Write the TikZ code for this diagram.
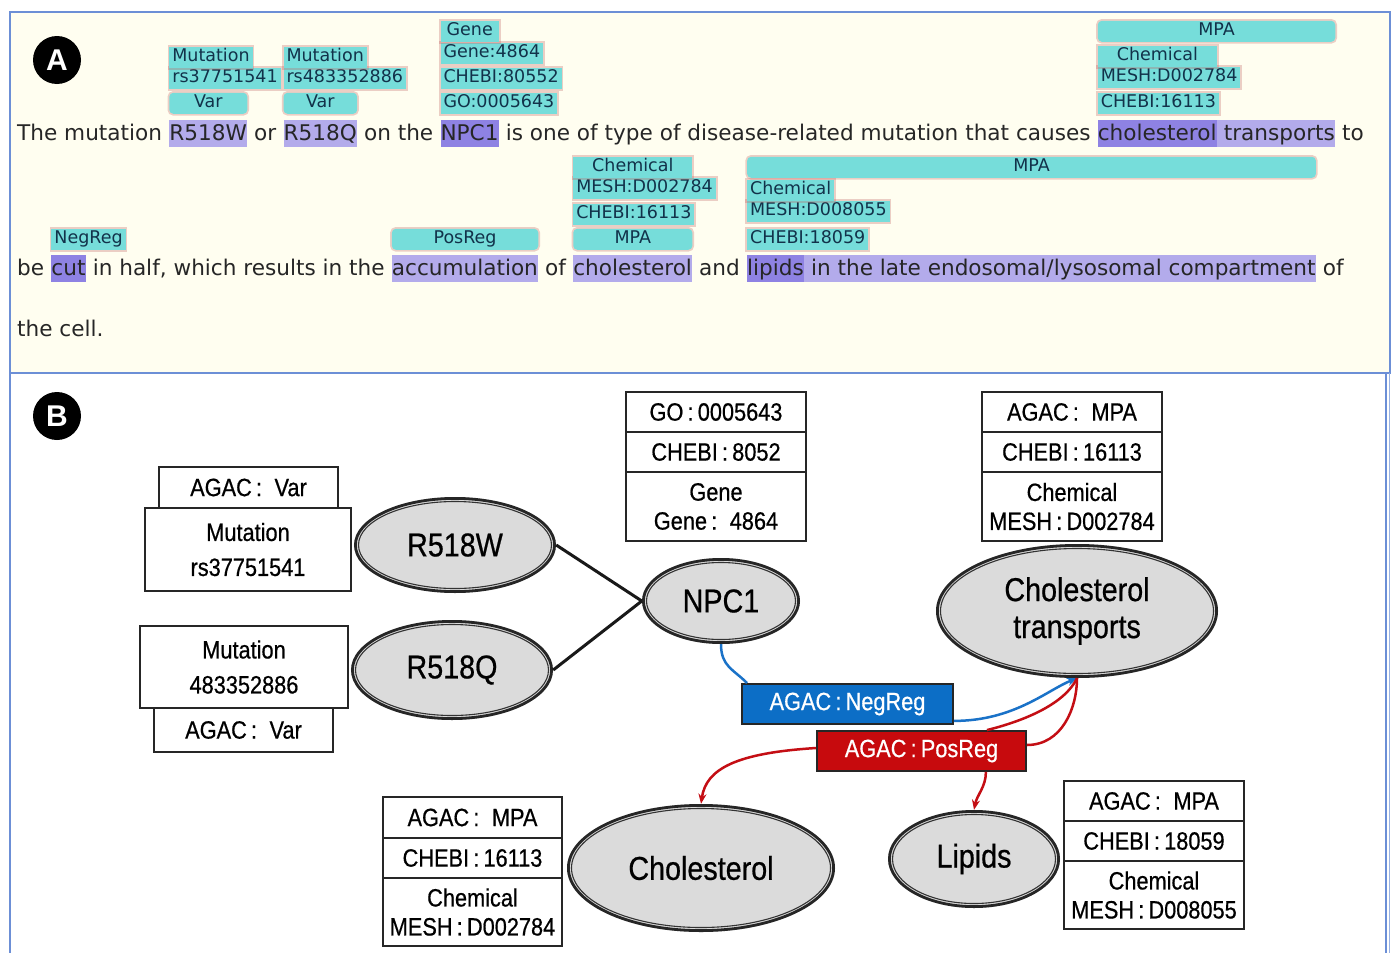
\documentclass[tikz,border=0pt]{standalone}
\usepackage{fontspec}
\usetikzlibrary{shapes.geometric,arrows.meta,calc}
\newfontfamily\afont{DejaVu Sans}
\newfontfamily\bfont[FakeStretch=0.87,FakeBold=0.6]{Liberation Sans}
\newfontfamily\cfont{Liberation Sans}
\definecolor{frameblue}{HTML}{6C8FD6}
\definecolor{panelbg}{HTML}{FFFEF0}
\definecolor{annc}{HTML}{76DDDA}
\definecolor{anntext}{HTML}{12324A}
\definecolor{glowc}{HTML}{C06060}
\definecolor{hllight}{HTML}{B3ABEB}
\definecolor{hldark}{HTML}{8E82E3}
\definecolor{maintext}{HTML}{262626}
\definecolor{ellfill}{HTML}{DBDBDB}
\definecolor{negblue}{HTML}{0C6EC6}
\definecolor{posred}{HTML}{C70A0D}
\definecolor{bluel}{HTML}{1A72C8}
\definecolor{redl}{HTML}{C40E14}
\newcommand\tsp{\ \mbox{}}
\newcommand\annot[6][]{%
  \coordinate (tmprow) at (0,#5);
  \path let \p1=(#3.west), \p2=(#4.east) in
    node[ann,#1,anchor=south west,minimum width=\x2-\x1] (#2) at (#3.west |- tmprow) {#6};}
\newcommand\ellnode[6]{%
  \fill[ellfill] (#2,#3) ellipse [x radius=#4, y radius=#5];
  \draw[line width=1.1pt, black!80] (#2,#3) ellipse [x radius=#4-4.5, y radius=#5-4.5];
  \draw[line width=2.8pt, black!85] (#2,#3) ellipse [x radius=#4-1.4, y radius=#5-1.4];
  \node[ellipse, inner sep=0pt, minimum width=2*#4, minimum height=2*#5, align=center,
        font=\bfont\fontsize{33}{37}\selectfont] (#1) at (#2,#3) {#6};}
\begin{document}
\begin{tikzpicture}[x=1pt,y=-1pt,
  txt/.style={inner sep=0pt, text=maintext, font=\afont\fontsize{21.6}{25}\selectfont},
  hlbox/.style={txt, fill=hllight, text height=20pt, text depth=7pt},
  hldbox/.style={txt, fill=hldark, text height=20pt, text depth=7pt},
  ann/.style={fill=annc, text=anntext, font=\afont\fontsize{17.5}{19}\selectfont,
    inner xsep=3pt, inner ysep=2.5pt, text height=12.5pt, text depth=3.5pt,
    preaction={draw=glowc, draw opacity=0.3, line width=3.5pt}},
  annr/.style={rounded corners=4pt},
  bbox/.style={draw=black!85, line width=1.8pt, fill=white, inner sep=0pt, align=center,
    font=\bfont\fontsize{25}{29}\selectfont},
  mbox/.style={bbox, font=\bfont\fontsize{25}{35}\selectfont},
  regbox/.style={draw=black!85, line width=1.8pt, inner sep=0pt, text=white,
    minimum width=210, minimum height=40, font=\bfont\fontsize{25}{29}\selectfont},
  conn/.style={line width=2.5pt},
  tip/.style={-{Stealth[length=10pt,width=8pt]}},
  badge/.style={circle, fill=black, minimum size=48, inner sep=0pt, text=white,
    font=\cfont\bfseries\fontsize{30}{30}\selectfont}
]
\useasboundingbox (0,0) rectangle (1394,953);
\fill[white] (0,0) rectangle (1394,953);
% ---------------- panel A ----------------
\draw[frameblue, line width=2pt, fill=panelbg] (10,12) rectangle (1390,373);
\node[badge] (badgeA) at (57,60) {A};
% line 1
\node[txt, anchor=base west] (l1a) at (17,140) {The mutation\tsp};
\node[hlbox, anchor=base west] (rw1) at (l1a.base east) {R518W};
\node[txt, anchor=base west] (l1b) at (rw1.base east) {\ or\tsp};
\node[hlbox, anchor=base west] (rq1) at (l1b.base east) {R518Q};
\node[txt, anchor=base west] (l1c) at (rq1.base east) {\ on the\tsp};
\node[hldbox, anchor=base west] (np1) at (l1c.base east) {NPC1};
\node[txt, anchor=base west] (l1d) at (np1.base east) {\ is one of type of disease-related mutation that causes\tsp};
\node[hldbox, anchor=base west] (ch1) at (l1d.base east) {cholesterol};
\node[hlbox, anchor=base west] (tr1) at (ch1.base east) {\ transports};
\node[txt, anchor=base west] (l1e) at (tr1.base east) {\ to};
% line 2
\node[txt, anchor=base west] (l2a) at (17,275) {be\tsp};
\node[hldbox, anchor=base west] (cut) at (l2a.base east) {cut};
\node[txt, anchor=base west] (l2b) at (cut.base east) {\ in half, which results in the\tsp};
\node[hlbox, anchor=base west] (acc) at (l2b.base east) {accumulation};
\node[txt, anchor=base west] (l2c) at (acc.base east) {\ of\tsp};
\node[hlbox, anchor=base west] (ch2) at (l2c.base east) {cholesterol};
\node[txt, anchor=base west] (l2d) at (ch2.base east) {\ and\tsp};
\node[hldbox, anchor=base west] (lip) at (l2d.base east) {lipids};
\node[hlbox, anchor=base west] (end2) at (lip.base east) {\ in the late endosomal/lysosomal compartment};
\node[txt, anchor=base west] (l2e) at (end2.base east) {\ of};
% line 3
\node[txt, anchor=base west] (l3) at (17,336) {the cell.};
% annotations line 1
\annot[annr]{a1}{rw1}{rw1}{114}{Var}
\annot{a2}{rw1}{rw1}{89}{rs37751541}
\annot{a3}{rw1}{rw1}{68}{Mutation}
\annot[annr]{a4}{rq1}{rq1}{114}{Var}
\annot{a5}{rq1}{rq1}{89}{rs483352886}
\annot{a6}{rq1}{rq1}{68}{Mutation}
\annot{a7}{np1}{np1}{114}{GO:0005643}
\annot{a8}{np1}{np1}{89}{CHEBI:80552}
\annot{a9}{np1}{np1}{64}{Gene:4864}
\annot{a10}{np1}{np1}{42}{Gene}
\annot{a11}{ch1}{ch1}{114}{CHEBI:16113}
\annot{a12}{ch1}{ch1}{88}{MESH:D002784}
\annot{a13}{ch1}{ch1}{67}{Chemical}
\annot[annr]{a14}{ch1}{tr1}{42}{MPA}
% annotations line 2
\annot{b1}{cut}{cut}{250}{NegReg}
\annot[annr]{b2}{acc}{acc}{250}{PosReg}
\annot[annr]{b3}{ch2}{ch2}{250}{MPA}
\annot{b4}{ch2}{ch2}{225}{CHEBI:16113}
\annot{b5}{ch2}{ch2}{199}{MESH:D002784}
\annot{b6}{ch2}{ch2}{178}{Chemical}
\annot{b7}{lip}{lip}{250}{CHEBI:18059}
\annot{b8}{lip}{lip}{222}{MESH:D008055}
\annot{b9}{lip}{lip}{201}{Chemical}
\annot[annr]{b10}{lip}{end2}{178}{MPA}
% ---------------- panel B ----------------
\draw[frameblue, line width=2pt] (10,373) -- (10,953);
\draw[frameblue, line width=1.5pt] (1386,373) -- (1386,953);
\draw[frameblue!70, line width=1pt] (1389.5,373) -- (1389.5,953);
\node[badge] (badgeB) at (57,416) {B};
% info boxes
\node[bbox, minimum width=179, minimum height=41] (v1) at (248.5,487.5) {AGAC\,:\enspace Var};
\node[mbox, minimum width=206, minimum height=83] (m1) at (248,549.5) {Mutation\\rs37751541};
\node[mbox, minimum width=208, minimum height=82] (m2) at (244,667) {Mutation\\483352886};
\node[bbox, minimum width=179, minimum height=44] (v2) at (243.5,730) {AGAC\,:\enspace Var};
\node[bbox, minimum width=180, minimum height=40] (go1) at (716,412) {GO\,:\,0005643};
\node[bbox, minimum width=180, minimum height=40] (go2) at (716,452) {CHEBI\,:\,8052};
\node[bbox, minimum width=180, minimum height=69] (go3) at (716,506.5) {Gene\\Gene\,:\enspace 4864};
\node[bbox, minimum width=180, minimum height=40] (c1) at (1072,412) {AGAC\,:\enspace MPA};
\node[bbox, minimum width=180, minimum height=40] (c2) at (1072,452) {CHEBI\,:\,16113};
\node[bbox, minimum width=180, minimum height=69] (c3) at (1072,506.5) {Chemical\\MESH\,:\,D002784};
\node[bbox, minimum width=179, minimum height=41] (h1) at (472.5,817.5) {AGAC\,:\enspace MPA};
\node[bbox, minimum width=179, minimum height=40] (h2) at (472.5,858) {CHEBI\,:\,16113};
\node[bbox, minimum width=179, minimum height=68] (h3) at (472.5,912) {Chemical\\MESH\,:\,D002784};
\node[bbox, minimum width=180, minimum height=40] (p1) at (1154,801) {AGAC\,:\enspace MPA};
\node[bbox, minimum width=180, minimum height=40] (p2) at (1154,841) {CHEBI\,:\,18059};
\node[bbox, minimum width=180, minimum height=68] (p3) at (1154,895) {Chemical\\MESH\,:\,D008055};
% ellipses
\ellnode{rw}{455}{545}{101}{48}{R518W}
\ellnode{rq}{452}{670}{101}{50}{R518Q}
\ellnode{npc}{721}{601}{79}{43}{NPC1}
\ellnode{ct}{1077}{611}{141}{67}{Cholesterol\\transports}
\ellnode{chol}{701}{868}{134}{64}{Cholesterol}
\ellnode{lipids}{974}{859}{86}{49}{Lipids}
% regulation boxes
\node[regbox, fill=negblue, minimum width=211] (neg) at (847.5,704) {AGAC\,:\,NegReg};
\node[regbox, fill=posred, minimum width=209] (pos) at (921.5,751) {AGAC\,:\,PosReg};
% connectors
\draw[line width=3pt, black!90] (rw.east) -- (npc.west);
\draw[line width=3pt, black!90] (rq.east) -- (npc.west);
\draw[conn, bluel] (npc.south) .. controls +(0,22) and +(-14,-14) .. ($(neg.north west)+(6,0)$);
\draw[conn, bluel, tip] ($(neg.south east)+(0,-4)$) .. controls +(60,0) and +(-30,12) .. (ct.south);
\draw[conn, redl] ($(pos.north east)+(-40,0)$) .. controls +(40,-10) and +(-12,25) .. (ct.south);
\draw[conn, redl] ($(pos.east)+(0,-6)$) .. controls +(35,0) and +(0,30) .. (ct.south);
\draw[conn, redl, tip] ($(pos.west)+(0,-3)$) .. controls +(-80,5) and +(5,-35) .. (chol.north);
\draw[conn, redl, tip] ($(pos.south east)+(-41,0)$) .. controls +(0,15) and +(3,-15) .. (lipids.north);
\end{tikzpicture}
\end{document}
